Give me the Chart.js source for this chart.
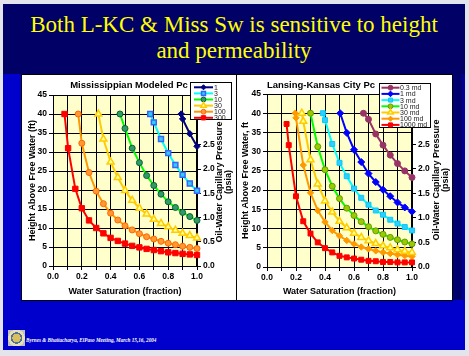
<!DOCTYPE html>
<html><head><meta charset="utf-8">
<script src="https://cdn.jsdelivr.net/npm/chart.js@4/dist/chart.umd.min.js"></script>
<style>
html,body{margin:0;padding:0;}
body{width:469px;height:356px;background:#e4e4ec;position:relative;overflow:hidden;font-family:"Liberation Sans",Arial,sans-serif;}
#slide{position:absolute;left:3px;top:4px;width:462px;height:346px;background:#0000cc;}
#header{position:absolute;left:3px;top:4px;width:462px;height:70px;background:#000066;}
#strip{position:absolute;left:452px;top:74px;width:13px;height:226px;background:linear-gradient(to right,#000080,#000066 60%,#0000aa);}
#title{position:absolute;left:3px;top:12px;width:462px;text-align:center;color:#ffff00;font-family:"Liberation Serif","Times New Roman",serif;font-size:23px;line-height:25.6px;}
.panel{position:absolute;background:#fff;border:1px solid #000;}
.panel canvas{display:block;}
#logo{position:absolute;left:8px;top:330px;width:17px;height:16px;background:radial-gradient(circle,#d8c060 0 35%,#5070a0 36% 48%,#e8e0b0 49% 70%,#c0c0c0 71%);}
#foot{position:absolute;left:26px;top:337px;color:#fff;font-family:"Liberation Serif","Times New Roman",serif;font-style:italic;font-weight:bold;font-size:5.2px;white-space:nowrap;}
</style></head>
<body>
<div id="slide"></div>
<div id="header"></div>
<div id="strip"></div>
<div id="title">Both L-KC &amp; Miss Sw is sensitive to height<br>and permeability</div>
<div class="panel" style="left:21px;top:74px;width:216px;height:225px;"><canvas id="c1" width="216" height="225"></canvas></div>
<div class="panel" style="left:236px;top:74px;width:215px;height:225px;"><canvas id="c2" width="215" height="225"></canvas></div>
<div id="logo"></div>
<div id="foot">Byrnes &amp; Bhattacharya, ElPaso Meeting, March 15,16, 2004</div>
<script>
// ---------------- Mississippian Modeled Pc ----------------
const missLabels = ['1', '3', '10', '30', '100', '300'];
const miss1Sw = [0.89, 0.90, 0.95, 1.00];
const miss1H  = [40, 38.7, 34.8, 31.5];
const miss3Sw = [0.675, 0.70, 0.75, 0.80, 0.85, 0.90, 0.95, 1.00];
const miss3H  = [40, 37.8, 33.4, 29.7, 26.6, 24.0, 21.7, 19.8];
const miss10Sw = [0.465, 0.50, 0.55, 0.60, 0.65, 0.70, 0.75, 0.80, 0.85, 0.90, 0.95, 1.00];
const miss10H  = [40, 36.2, 31.0, 27.2, 23.8, 21.2, 18.9, 16.9, 15.4, 14.1, 13.0, 12.0];
const miss30Sw = [0.315, 0.35, 0.40, 0.45, 0.50, 0.55, 0.60, 0.65, 0.70, 0.75, 0.80, 0.85, 0.90, 0.95, 1.00];
const miss30H  = [40, 33.4, 27.4, 23.3, 19.9, 17.3, 15.2, 13.7, 12.3, 11.2, 10.3, 9.4, 8.6, 8.0, 7.4];
const miss100Sw = [0.175, 0.20, 0.25, 0.30, 0.35, 0.40, 0.45, 0.50, 0.55, 0.60, 0.65, 0.70, 0.75, 0.80, 0.85, 0.90, 0.95, 1.00];
const miss100H  = [40, 32.3, 24.6, 19.7, 16.4, 13.9, 12.1, 10.6, 9.5, 8.5, 7.7, 7.1, 6.5, 6.0, 5.6, 5.2, 4.9, 4.6];
const miss300Sw = [0.08, 0.105, 0.155, 0.20, 0.25, 0.30, 0.35, 0.40, 0.45, 0.50, 0.55, 0.60, 0.65, 0.70, 0.75, 0.80, 0.85, 0.90, 0.95, 1.00];
const miss300H  = [40, 31, 20.3, 15.2, 12.0, 10.0, 8.6, 7.4, 6.6, 5.9, 5.3, 4.9, 4.5, 4.2, 3.9, 3.6, 3.4, 3.2, 3.05, 2.9];

// ---------------- Lansing-Kansas City Pc ----------------
const lkcLabels = ['0.3 md', '1 md', '3 md', '10 md', '30 md', '100 md', '1000 md'];
const lkc03Sw = [0.665, 0.70, 0.75, 0.80, 0.85, 0.90, 0.95, 1.00];
const lkc03H  = [40, 38.4, 34.6, 31.7, 29.1, 26.9, 25.0, 23.3];
const lkc1Sw = [0.505, 0.55, 0.60, 0.65, 0.70, 0.75, 0.80, 0.85, 0.90, 0.95, 1.00];
const lkc1H  = [40, 34.9, 30.5, 27.3, 24.3, 22.1, 20.1, 18.4, 16.8, 15.5, 14.4];
const lkc3Sw = [0.385, 0.40, 0.45, 0.50, 0.55, 0.60, 0.65, 0.70, 0.75, 0.80, 0.85, 0.90, 0.95, 1.00];
const lkc3H  = [40, 38.2, 32.0, 27.1, 23.6, 20.4, 18.0, 16.2, 14.7, 13.6, 12.3, 11.3, 10.4, 9.5];
const lkc10Sw = [0.30, 0.35, 0.40, 0.45, 0.50, 0.55, 0.60, 0.65, 0.70, 0.75, 0.80, 0.85, 0.90, 0.95, 1.00];
const lkc10H  = [40, 31.3, 25.3, 21.0, 17.8, 15.3, 13.4, 11.8, 10.5, 9.4, 8.5, 7.7, 7.1, 6.5, 6.0];
const lkc30Sw = [0.24, 0.25, 0.30, 0.35, 0.40, 0.45, 0.50, 0.55, 0.60, 0.65, 0.70, 0.75, 0.80, 0.85, 0.90, 0.95, 1.00];
const lkc30H  = [40, 37.9, 27.9, 21.6, 17.2, 14.3, 11.9, 10.2, 8.8, 7.7, 6.85, 6.1, 5.5, 5.0, 4.5, 4.1, 3.8];
const lkc100Sw = [0.195, 0.20, 0.25, 0.30, 0.35, 0.40, 0.45, 0.50, 0.55, 0.60, 0.65, 0.70, 0.75, 0.80, 0.85, 0.90, 0.95, 1.00];
const lkc100H  = [40, 38.8, 26.5, 19.3, 14.7, 11.7, 9.5, 8.1, 6.9, 6.0, 5.2, 4.7, 4.2, 3.8, 3.5, 3.2, 2.95, 2.75];
const lkc1000Sw = [0.135, 0.15, 0.20, 0.25, 0.30, 0.35, 0.40, 0.45, 0.50, 0.55, 0.60, 0.65, 0.70, 0.75, 0.80, 0.85, 0.90, 0.95, 1.00];
const lkc1000H  = [37.2, 31.7, 18.4, 11.9, 8.7, 6.4, 4.9, 3.8, 2.9, 2.5, 2.2, 1.9, 1.6, 1.5, 1.3, 1.3, 1.2, 1.2, 1.2];

// axis tick values
const swTicks = [0, 0.1, 0.2, 0.3, 0.4, 0.5, 0.6, 0.7, 0.8, 0.9, 1.0];
const heightTicks = [0, 5, 10, 15, 20, 25, 30, 35, 40, 45];
const psiTicks = [0, 0.5, 1.0, 1.5, 2.0, 2.5];
const psiMax = 3.53; // pressure equivalent of 45 ft

const FONT = '"Liberation Sans", Arial, sans-serif';
const pts = (sw, h) => sw.map((x, i) => ({x: x, y: h[i]}));

function ds(label, sw, h, line, style, bg, bd, r, bw) {
  return {label: label, data: pts(sw, h), borderColor: line, backgroundColor: line, borderWidth: 2,
    pointStyle: style, pointRadius: r, pointBackgroundColor: bg, pointBorderColor: bd, pointBorderWidth: bw,
    tension: 0, clip: false};
}

const plotBg = {id: 'plotBg', beforeDraw(chart) {
  const a = chart.chartArea, ctx = chart.ctx;
  ctx.save(); ctx.fillStyle = '#FFFFCC'; ctx.fillRect(a.left, a.top, a.right - a.left, a.bottom - a.top); ctx.restore();
}};

const panelText = {id: 'panelText', afterDraw(chart, args, o) {
  const ctx = chart.ctx; ctx.save();
  ctx.fillStyle = '#000'; ctx.textAlign = 'center'; ctx.textBaseline = 'middle';
  ctx.font = 'bold 9.5px ' + FONT;
  ctx.fillText(o.title, o.titleX, o.titleY);
  ctx.font = 'bold 9px ' + FONT;
  ctx.translate(o.y2X, o.y2Y); ctx.rotate(-Math.PI / 2);
  o.y2Lines.forEach((t, i) => ctx.fillText(t, 0, i * o.y2LineH));
  ctx.restore();
}};

const boxLegend = {id: 'boxLegend', afterDraw(chart, args, o) {
  const ctx = chart.ctx; ctx.save();
  ctx.fillStyle = '#fff'; ctx.fillRect(o.x, o.y, o.w, o.h);
  ctx.strokeStyle = '#000'; ctx.lineWidth = 1; ctx.strokeRect(o.x + 0.5, o.y + 0.5, o.w - 1, o.h - 1);
  chart.data.datasets.forEach((d, i) => {
    const cy = o.firstY + i * o.rowH;
    ctx.strokeStyle = d.borderColor; ctx.lineWidth = 2;
    ctx.beginPath(); ctx.moveTo(o.lineX0, cy); ctx.lineTo(o.lineX1, cy); ctx.stroke();
    ctx.fillStyle = d.pointBackgroundColor; ctx.strokeStyle = d.pointBorderColor; ctx.lineWidth = d.pointBorderWidth;
    Chart.helpers.drawPoint(ctx, {pointStyle: d.pointStyle, radius: d.pointRadius * 0.8, rotation: 0, borderWidth: d.pointBorderWidth}, (o.lineX0 + o.lineX1) / 2, cy);
    ctx.fillStyle = '#222'; ctx.font = '7px ' + FONT; ctx.textAlign = 'left'; ctx.textBaseline = 'middle';
    ctx.fillText(d.label, o.textX, cy + 0.5);
  });
  ctx.restore();
}};

function makeOptions(p) {
  const tickFont = {family: FONT, size: 8.5, weight: 'bold'};
  const titleFont = {family: FONT, size: 9, weight: 'bold'};
  return {
    responsive: false, animation: false, devicePixelRatio: 1,
    layout: {padding: p.pad},
    plugins: {legend: {display: false}, tooltip: {enabled: false}, title: {display: false},
      panelText: p.text, boxLegend: p.legend},
    scales: {
      x: {type: 'linear', min: 0, max: 1,
        afterBuildTicks: s => { s.ticks = swTicks.map(v => ({value: v})); },
        afterFit: s => { s.height = p.xH; },
        ticks: {autoSkip: false, maxRotation: 0, padding: 2, color: '#000', font: tickFont,
          callback: v => (Math.round(v * 10) % 2 === 0 ? Number(v).toFixed(1) : '')},
        grid: {color: '#000', lineWidth: 1, tickLength: 4},
        border: {color: '#000', width: 1},
        title: {display: true, text: 'Water Saturation (fraction)', color: '#000', font: titleFont, padding: {top: 0, bottom: p.xTitlePad}}},
      y: {type: 'linear', min: 0, max: 45,
        afterBuildTicks: s => { s.ticks = heightTicks.map(v => ({value: v})); },
        afterFit: s => { s.width = p.yW; },
        ticks: {padding: 2, color: '#000', font: tickFont},
        grid: {color: '#000', lineWidth: 1, tickLength: 4},
        border: {color: '#000', width: 1},
        title: {display: true, text: p.yTitle, color: '#000', font: titleFont, padding: {top: p.yTitlePad, bottom: 0}}},
      y2: {type: 'linear', position: 'right', min: 0, max: psiMax,
        afterBuildTicks: s => { s.ticks = psiTicks.map(v => ({value: v})); },
        afterFit: s => { s.width = p.y2W; },
        ticks: {padding: 2, color: '#000', font: tickFont, callback: v => Number(v).toFixed(1)},
        grid: {drawOnChartArea: false, color: '#000', tickLength: 4},
        border: {color: '#000', width: 1.5}}
    }
  };
}

new Chart(document.getElementById('c1'), {
  type: 'line',
  data: {datasets: [
    ds(missLabels[0], miss1Sw, miss1H, '#000080', 'rectRot', '#000080', '#000080', 3.2, 1),
    ds(missLabels[1], miss3Sw, miss3H, '#00FFFF', 'rect', '#33CCFF', '#3366FF', 3.5, 1.5),
    ds(missLabels[2], miss10Sw, miss10H, '#00FF00', 'circle', '#339966', '#006633', 3, 1),
    ds(missLabels[3], miss30Sw, miss30H, '#FFCC00', 'triangle', '#FFFF99', '#FFCC00', 4, 1.5),
    ds(missLabels[4], miss100Sw, miss100H, '#FF9900', 'circle', '#FF9933', '#FF6600', 3, 1),
    ds(missLabels[5], miss300Sw, miss300H, '#FF0000', 'rect', '#FF0000', '#FF0000', 3.8, 1)
  ]},
  options: makeOptions({
    pad: {left: 2, top: 20, right: 2, bottom: 0}, xH: 34, yW: 29, y2W: 39, xTitlePad: 3, yTitlePad: 3.5,
    yTitle: 'Height Above Free Water (ft)',
    text: {title: 'Mississippian Modeled Pc', titleX: 107, titleY: 10, y2X: 198, y2Y: 107, y2LineH: 9,
      y2Lines: ['Oil-Water Capillary Pressure', '(psia)']},
    legend: {x: 168, y: 7, w: 42, h: 38, firstY: 12.3, rowH: 6.1, lineX0: 172, lineX1: 191, textX: 192}
  }),
  plugins: [plotBg, panelText, boxLegend]
});

new Chart(document.getElementById('c2'), {
  type: 'line',
  data: {datasets: [
    ds(lkcLabels[0], lkc03Sw, lkc03H, '#993366', 'circle', '#993366', '#993366', 3, 1),
    ds(lkcLabels[1], lkc1Sw, lkc1H, '#0000FF', 'rectRot', '#0000FF', '#0000FF', 3.5, 1),
    ds(lkcLabels[2], lkc3Sw, lkc3H, '#00FFFF', 'rect', '#33CCFF', '#00CCFF', 3.5, 1),
    ds(lkcLabels[3], lkc10Sw, lkc10H, '#00FF00', 'circle', '#99CC00', '#669900', 3, 1),
    ds(lkcLabels[4], lkc30Sw, lkc30H, '#FFCC00', 'triangle', '#FFFF99', '#FFCC00', 4, 1.5),
    ds(lkcLabels[5], lkc100Sw, lkc100H, '#FF9900', 'rectRot', '#FF9900', '#FF9900', 3.2, 1),
    ds(lkcLabels[6], lkc1000Sw, lkc1000H, '#FF0000', 'rect', '#FF0000', '#FF0000', 3.5, 1)
  ]},
  options: makeOptions({
    pad: {left: 1, top: 19, right: 2, bottom: 0}, xH: 33, yW: 29, y2W: 38, xTitlePad: 3.5, yTitlePad: 2.6,
    yTitle: 'Height Above Free Water, ft',
    text: {title: 'Lansing-Kansas City Pc', titleX: 84, titleY: 10.7, y2X: 200, y2Y: 105, y2LineH: 8.5,
      y2Lines: ['Oil-Water Capillary Pressure', '(psia)']},
    legend: {x: 142, y: 8, w: 52, h: 45, firstY: 12.7, rowH: 6.2, lineX0: 144.5, lineX1: 162.5, textX: 163}
  }),
  plugins: [plotBg, panelText, boxLegend]
});
</script>
</body></html>
